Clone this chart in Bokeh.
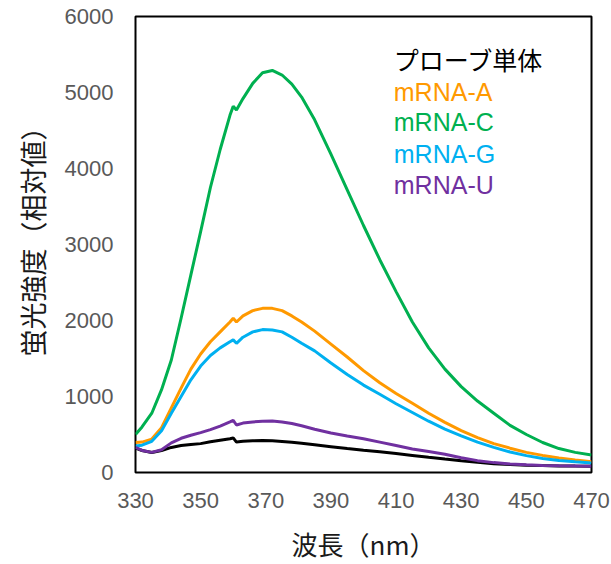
from bokeh.plotting import figure
from bokeh.models import Range1d, FixedTicker, Label, Title
from bokeh.embed import file_html
from bokeh.resources import INLINE

wavelength = [330, 332, 335, 338, 341, 344, 347, 350, 353, 356, 359, 360, 361, 363, 366, 369,
              372, 375, 378, 381, 385, 390, 395, 400, 405, 410, 415, 420, 425, 430, 435, 440,
              445, 450, 455, 460, 465, 470]

probe_only = [320, 290, 262, 290, 330, 355, 368, 380, 405, 425, 445, 455, 400, 410, 417, 420,
              417, 408, 398, 385, 365, 340, 315, 292, 272, 250, 225, 200, 177, 155, 134, 115,
              104, 96, 91, 87, 84, 82]
mrna_a = [395, 400, 440, 590, 850, 1110, 1360, 1560, 1720, 1850, 1980, 2030, 1980, 2060, 2130, 2160,
          2160, 2130, 2060, 1980, 1860, 1690, 1520, 1340, 1180, 1040, 910, 780, 660, 550, 460, 380,
          320, 265, 225, 190, 165, 143]
mrna_c = [500, 600, 780, 1090, 1480, 2030, 2600, 3170, 3750, 4250, 4700, 4820, 4770, 4920, 5120, 5260,
          5290, 5230, 5110, 4940, 4640, 4190, 3720, 3250, 2800, 2380, 1980, 1640, 1360, 1130, 940, 780,
          620, 500, 395, 315, 265, 230]
mrna_g = [350, 360, 410, 550, 780, 1000, 1220, 1400, 1540, 1640, 1720, 1745, 1700, 1780, 1850, 1880,
          1875, 1850, 1780, 1700, 1600, 1440, 1290, 1150, 1030, 905, 790, 675, 570, 482, 400, 330,
          270, 222, 185, 157, 140, 126]
mrna_u = [330, 290, 265, 300, 390, 450, 490, 525, 565, 610, 665, 685, 625, 650, 665, 675,
          677, 665, 645, 615, 570, 520, 480, 445, 400, 355, 310, 275, 240, 195, 156, 130,
          113, 102, 92, 88, 85, 82]

series_names = ["プローブ単体", "mRNA-A", "mRNA-C", "mRNA-G", "mRNA-U"]
series_values = [probe_only, mrna_a, mrna_c, mrna_g, mrna_u]
series_colors = ["#000000", "#FF9900", "#00B050", "#00B0F0", "#7030A0"]

x_ticks = [330, 350, 370, 390, 410, 430, 450, 470]
y_ticks = [0, 1000, 2000, 3000, 4000, 5000, 6000]

x_title = "波長（nm）"
y_title = "蛍光強度（相対値）"

# legend label anchors (data units)
legend_x = 409.3
legend_y = [5441, 5011, 4608, 4191, 3788]

p = figure(width=611, height=564, output_backend="svg", toolbar_location=None,
           x_range=Range1d(330, 470), y_range=Range1d(0, 6000),
           min_border_left=133, min_border_right=20, min_border_top=16, min_border_bottom=87)

p.xgrid.visible = False
p.ygrid.visible = False
p.outline_line_color = "black"
p.outline_line_width = 2
p.background_fill_color = "white"
p.border_fill_color = "white"

for ax in (p.xaxis, p.yaxis):
    ax.axis_line_color = None
    ax.major_tick_line_color = None
    ax.minor_tick_line_color = None
    ax.major_label_text_font = "Liberation Sans"
    ax.major_label_text_font_size = "22px"
    ax.major_label_text_color = "#595959"
    ax.axis_label_text_font = "Noto Sans CJK JP"
    ax.axis_label_text_font_style = "normal"
    ax.axis_label_text_color = "#1a1a1a"

p.xaxis.ticker = FixedTicker(ticks=x_ticks)
p.yaxis.ticker = FixedTicker(ticks=y_ticks)
p.xaxis.major_label_standoff = 14
p.yaxis.major_label_standoff = 16
p.xaxis.axis_label = x_title
p.xaxis.axis_label_text_font_size = "26px"
p.xaxis.axis_label_standoff = 14

# y title as a side title, its end placed near the top as in the reference
p.add_layout(Title(text=y_title, align="right", offset=97, standoff=20, text_line_height=1.0,
                   text_font="Noto Sans CJK JP", text_font_size="27px", text_font_style="normal",
                   text_color="#1a1a1a"), "left")

for vals, col in zip(series_values, series_colors):
    p.line(wavelength, vals, line_color=col, line_width=3)

for name, col, ly in zip(series_names, series_colors, legend_y):
    font = "Noto Sans CJK JP" if name == "プローブ単体" else "Liberation Sans"
    p.add_layout(Label(x=legend_x, y=ly, text=name, text_color=col, text_font=font,
                       text_font_size="25px", text_baseline="middle", text_align="left"))

open("out.html", "w").write(file_html(p, INLINE))
